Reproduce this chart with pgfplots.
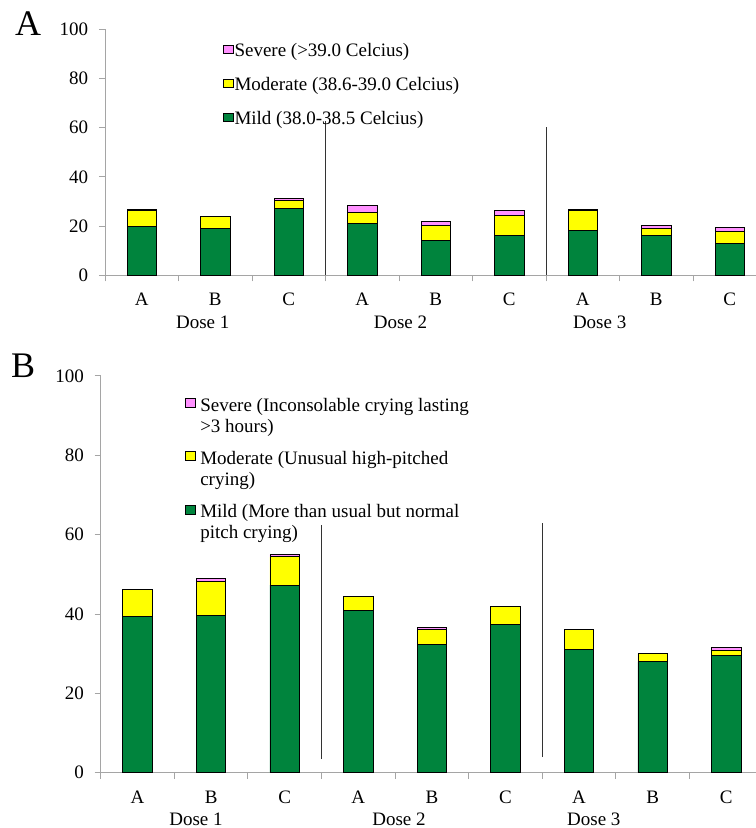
\documentclass[border=0pt]{standalone}
\usepackage{fontspec}
\setmainfont{Liberation Serif}
\usepackage{pgfplots}
\pgfplotsset{compat=1.18}
\definecolor{mildgreen}{RGB}{0,132,61}
\definecolor{modyellow}{RGB}{255,255,0}
\definecolor{sevpink}{RGB}{255,145,255}
\definecolor{axgray}{RGB}{165,165,165}

\pgfplotsset{
  panel/.style={
    scale only axis, anchor=south west,
    ybar stacked, bar width=29.4bp,
    ymin=0, ymax=100, xmin=-0.5,
    ytick={0,20,...,100},
    xtick={0,...,8},
    xticklabels={A,B,C,A,B,C,A,B,C},
    minor xtick={-0.5,0.5,...,7.5},
    axis x line*=bottom, axis y line*=left,
    axis line style={axgray, line width=1bp},
    tick align=outside,
    major tick length=6bp, minor tick length=6bp,
    major x tick style={draw=none},
    minor x tick style={axgray, line width=1bp},
    ytick style={axgray, line width=1bp},
    font=\fontsize{19bp}{21.5bp}\selectfont,
    /pgf/number format/assume math mode=true,
    yticklabel style={anchor=east, inner sep=0pt, xshift=-10.7bp},
    xticklabel style={anchor=base, inner sep=0pt, yshift=-24.7bp},
    clip=false,
    reverse legend,
    legend cell align=left,
    legend style={draw=none, fill=none, inner sep=0pt, outer sep=0pt,
      anchor=north west, nodes={inner sep=0pt, outer sep=0pt}},
  },
  bar/.style={fill=#1, draw=black, line width=0.8bp},
  legA/.style={legend image code/.code={\draw[##1] (0bp,-1.5bp) rectangle (10bp,6.5bp);}},
  legB/.style={legend image code/.code={\draw[##1] (0bp,9.75bp) rectangle (10bp,18.75bp);}},
}

\begin{document}
\begin{tikzpicture}
\useasboundingbox (0,0) rectangle (756bp,828bp);

\node[anchor=base west, inner sep=0pt, font=\fontsize{36bp}{40bp}\selectfont] at (15bp,792bp) {A};
\node[anchor=base west, inner sep=0pt, font=\fontsize{36bp}{40bp}\selectfont] at (11bp,450.3bp) {B};

% Panel A: fever
\begin{axis}[panel,
  at={(105bp,552.7bp)}, width=651bp, height=246bp, xmax=8.357,
  legend style={at={(0.1808,0.9415)}, column sep=1bp,
    nodes={text height=13bp, text depth=4bp}, row sep=16.7bp},
]
\addplot[bar=mildgreen, legA] coordinates {
  (0,19.7) (1,19.2) (2,27.1) (3,20.9) (4,14.1) (5,16.1) (6,18.2) (7,16.1) (8,13.1)};
\addlegendentry{Mild (38.0-38.5 Celcius)}
\addplot[bar=modyellow, legA] coordinates {
  (0,6.5) (1,4.6) (2,3.3) (3,4.8) (4,6.2) (5,8.2) (6,8.1) (7,3.1) (8,4.9)};
\addlegendentry{Moderate (38.6-39.0 Celcius)}
\addplot[bar=sevpink, legA] coordinates {
  (0,0.7) (1,0) (2,1.0) (3,2.6) (4,1.7) (5,2.0) (6,0.3) (7,1.0) (8,1.4)};
\addlegendentry{Severe (>39.0 Celcius)}
\draw[black!80, line width=0.9bp] (axis cs:2.5,0) -- (axis cs:2.5,62.8);
\draw[black!80, line width=0.9bp] (axis cs:5.5,0) -- (axis cs:5.5,60.4);
\node[anchor=base, inner sep=0pt, yshift=-53.7bp] at (axis cs:0.83,0) {Dose 1};
\node[anchor=base, inner sep=0pt, yshift=-53.7bp] at (axis cs:3.52,0) {Dose 2};
\node[anchor=base, inner sep=0pt, yshift=-53.7bp] at (axis cs:6.23,0) {Dose 3};
\end{axis}

% Panel B: crying
\begin{axis}[panel,
  at={(100.7bp,55.3bp)}, width=655.3bp, height=396.7bp, xmax=8.404,
  legend style={at={(0.1286,0.9445)}, column sep=4.5bp,
    nodes={text height=13bp, text depth=25.5bp}, row sep=14.7bp},
]
\addplot[bar=mildgreen, legB] coordinates {
  (0,39.5) (1,39.7) (2,47.3) (3,40.9) (4,32.4) (5,37.4) (6,31.0) (7,28.0) (8,29.5)};
\addlegendentry{{\parbox[t]{280bp}{\raggedright Mild (More than usual but normal\\pitch crying)}}}
\addplot[bar=modyellow, legB] coordinates {
  (0,6.6) (1,8.6) (2,7.1) (3,3.6) (4,3.7) (5,4.4) (6,5.1) (7,2.0) (8,1.4)};
\addlegendentry{{\parbox[t]{280bp}{\raggedright Moderate (Unusual high-pitched\\crying)}}}
\addplot[bar=sevpink, legB] coordinates {
  (0,0) (1,0.6) (2,0.6) (3,0) (4,0.6) (5,0) (6,0) (7,0) (8,0.7)};
\addlegendentry{{\parbox[t]{280bp}{\raggedright Severe (Inconsolable crying lasting\\>3 hours)}}}
\draw[black!80, line width=0.9bp] (axis cs:2.5,3.4) -- (axis cs:2.5,62.4);
\draw[black!80, line width=0.9bp] (axis cs:5.5,3.9) -- (axis cs:5.5,63.0);
\node[anchor=base, inner sep=0pt, yshift=-52.3bp] at (axis cs:0.795,0) {Dose 1};
\node[anchor=base, inner sep=0pt, yshift=-52.3bp] at (axis cs:3.553,0) {Dose 2};
\node[anchor=base, inner sep=0pt, yshift=-52.3bp] at (axis cs:6.2,0) {Dose 3};
\end{axis}
\end{tikzpicture}
\end{document}
